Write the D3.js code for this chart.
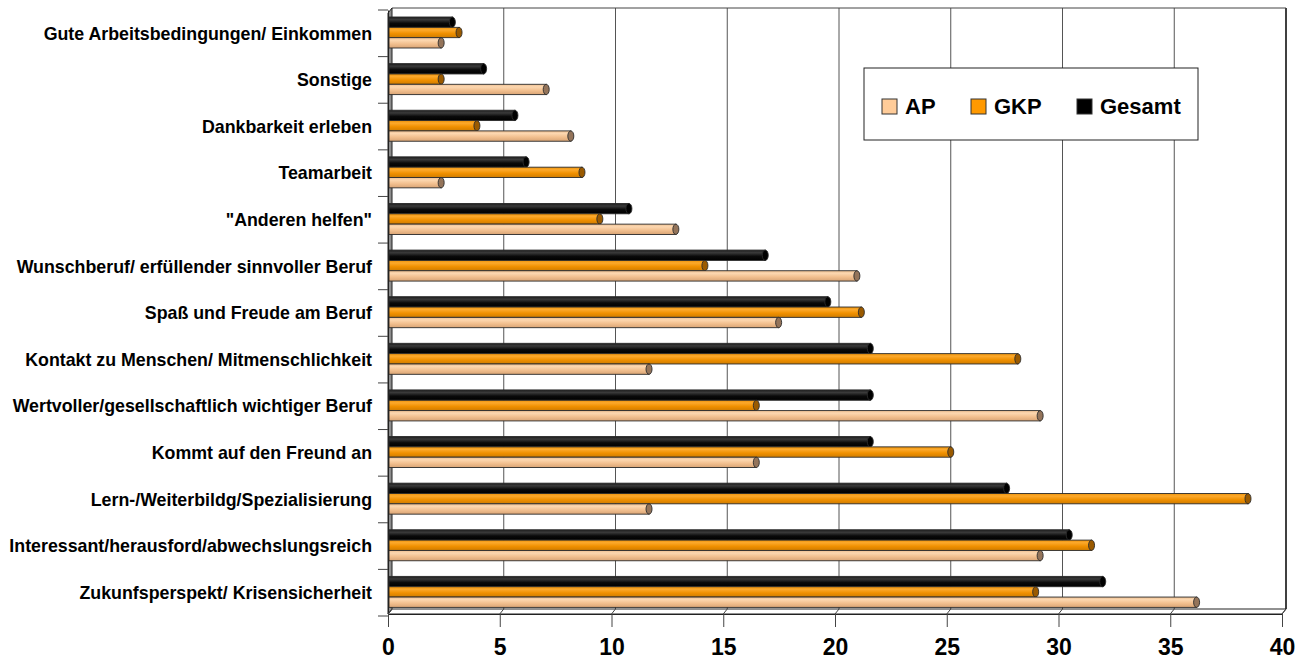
<!DOCTYPE html>
<html lang="de">
<head>
    <meta charset="UTF-8">
    <title>Gründe</title>
    <script src="https://cdn.jsdelivr.net/npm/d3@7/dist/d3.min.js"></script>
    <style>
        html, body {
            margin: 0;
            padding: 0;
            background-color: white;
        }
        svg {
            display: block;
            font-family: "Liberation Sans", Arial, sans-serif;
        }
        text.cat {
            font-size: 17.8px;
            font-weight: bold;
            fill: black;
        }
        text.tick {
            font-size: 23px;
            font-weight: bold;
            fill: black;
        }
        text.legend {
            font-size: 22px;
            font-weight: bold;
            fill: black;
        }
    </style>
</head>
<body>

<svg id="chart" width="1306" height="659"></svg>

<script>
    // categories from top to bottom
    var categories = [
        "Gute Arbeitsbedingungen/ Einkommen",
        "Sonstige",
        "Dankbarkeit erleben",
        "Teamarbeit",
        "\"Anderen helfen\"",
        "Wunschberuf/ erfüllender sinnvoller Beruf",
        "Spaß und Freude am Beruf",
        "Kontakt zu Menschen/ Mitmenschlichkeit",
        "Wertvoller/gesellschaftlich wichtiger Beruf",
        "Kommt auf den Freund an",
        "Lern-/Weiterbildg/Spezialisierung",
        "Interessant/herausford/abwechslungsreich",
        "Zukunfsperspekt/ Krisensicherheit"
    ];

    var apValues     = [2.2, 6.9, 8.0, 2.2, 12.7, 20.8, 17.3, 11.5, 29.0, 16.3, 11.5, 29.0, 36.0];
    var gkpValues    = [3.0, 2.2, 3.8, 8.5, 9.3, 14.0, 21.0, 28.0, 16.3, 25.0, 38.3, 31.3, 28.8];
    var gesamtValues = [2.7, 4.1, 5.5, 6.0, 10.6, 16.7, 19.5, 21.4, 21.4, 21.4, 27.5, 30.3, 31.8];

    var seriesNames = ["Gesamt", "GKP", "AP"];      // order inside a group, top to bottom
    var legendNames = ["AP", "GKP", "Gesamt"];
    var xTicks = [0, 5, 10, 15, 20, 25, 30, 35, 40];

    var seriesValues = {AP: apValues, GKP: gkpValues, Gesamt: gesamtValues};

    var colors = {
        AP:     {stops: ["#eebf91", "#fcd7b0", "#f2c08f", "#d9a475"], cap: "#94745a", swatch: "#ffcc99"},
        GKP:    {stops: ["#ee9208", "#fca92c", "#f09000", "#cf7c00"], cap: "#9a5a00", swatch: "#ff9900"},
        Gesamt: {stops: ["#1c1c1c", "#3a3a3a", "#0a0a0a", "#000000"], cap: "#000000", swatch: "#000000"}
    };

    var svg = d3.select("#chart");

    // 3d offsets
    var depthX = 4, depthY = 5;
    var plotTop = 8, floorY = 609;

    // back plane scale (gridlines, bars) and front scale (axis ticks)
    var x = d3.scaleLinear().domain([0, 40]).range([392, 1286]);
    var xFront = d3.scaleLinear().domain([0, 40]).range([392 - depthX, 1286 - depthX]);

    var y = d3.scaleBand().domain(categories).range([10, 616]);
    var ySub = d3.scaleBand().domain(seriesNames).range([7, 38]);

    // gradients
    var defs = svg.append("defs");
    seriesNames.forEach(function(s) {
        var g = defs.append("linearGradient")
            .attr("id", "grad-" + s)
            .attr("x1", 0).attr("y1", 0).attr("x2", 0).attr("y2", 1);
        var offs = [0, 0.25, 0.6, 1];
        colors[s].stops.forEach(function(c, i) {
            g.append("stop").attr("offset", offs[i]).attr("stop-color", c);
        });
    });

    // gridlines incl. top/right border
    var grid = svg.append("g").attr("class", "grid");
    grid.selectAll("line.grid")
        .data(xTicks.slice(1))
        .enter()
        .append("line")
        .attr("x1", function(d) { return x(d); })
        .attr("x2", function(d) { return x(d); })
        .attr("y1", plotTop)
        .attr("y2", floorY)
        .attr("stroke", function(d) { return d === 40 ? "#000" : "#555"; })
        .attr("stroke-width", function(d) { return d === 40 ? 1.5 : 1; });

    grid.append("line")
        .attr("x1", x(0)).attr("x2", x(40))
        .attr("y1", plotTop).attr("y2", plotTop)
        .attr("stroke", "#444");

    // floor
    svg.append("path")
        .attr("d", "M" + x(0) + "," + floorY + " L" + x(40) + "," + floorY +
            " L" + xFront(40) + "," + (floorY + depthY) + " L" + xFront(0) + "," + (floorY + depthY) + " Z")
        .attr("fill", "white")
        .attr("stroke", "#222")
        .attr("stroke-width", 1);

    // left wall
    svg.append("path")
        .attr("d", "M" + x(0) + "," + plotTop + " L" + x(0) + "," + floorY +
            " L" + xFront(0) + "," + (floorY + depthY) + " L" + xFront(0) + "," + (plotTop + depthY) + " Z")
        .attr("fill", "#8c8c8c")
        .attr("stroke", "#222")
        .attr("stroke-width", 1);

    // bars
    var barData = [];
    categories.forEach(function(c, i) {
        seriesNames.forEach(function(s) {
            barData.push({cat: c, series: s, value: seriesValues[s][i]});
        });
    });

    var bars = svg.append("g").attr("class", "bars")
        .selectAll("g.bar")
        .data(barData)
        .enter()
        .append("g")
        .attr("class", "bar");

    var barStart = x(0) - 3;

    bars.append("rect")
        .attr("x", barStart)
        .attr("y", function(d) { return y(d.cat) + ySub(d.series); })
        .attr("width", function(d) { return x(d.value) - barStart; })
        .attr("height", ySub.bandwidth())
        .attr("fill", function(d) { return "url(#grad-" + d.series + ")"; })
        .attr("stroke", "#2b2b2b")
        .attr("stroke-width", 0.9);

    bars.append("ellipse")
        .attr("cx", function(d) { return x(d.value); })
        .attr("cy", function(d) { return y(d.cat) + ySub(d.series) + ySub.bandwidth() / 2; })
        .attr("rx", 3)
        .attr("ry", ySub.bandwidth() / 2)
        .attr("fill", function(d) { return colors[d.series].cap; })
        .attr("stroke", "#2b2b2b")
        .attr("stroke-width", 0.9);

    // category axis (front plane)
    var yAxis = d3.axisLeft(y).tickSize(0).tickFormat("");
    var yAxisG = svg.append("g")
        .attr("transform", "translate(" + xFront(0) + ",0)")
        .call(yAxis);
    yAxisG.select(".domain").attr("stroke", "#222");

    var boundaries = categories.map(function(c) { return y(c); }).concat([y.range()[1]]);
    svg.append("g").selectAll("line")
        .data(boundaries)
        .enter()
        .append("line")
        .attr("x1", xFront(0) - 10)
        .attr("x2", xFront(0))
        .attr("y1", function(d) { return d; })
        .attr("y2", function(d) { return d; })
        .attr("stroke", "#444");

    svg.append("g").selectAll("text.cat")
        .data(categories)
        .enter()
        .append("text")
        .attr("class", "cat")
        .attr("x", 372)
        .attr("y", function(d) { return y(d) + y.bandwidth() / 2; })
        .attr("dy", "0.35em")
        .attr("text-anchor", "end")
        .text(function(d) { return d; });

    // value axis (front plane)
    var xAxisG = svg.append("g")
        .attr("transform", "translate(0," + (floorY + depthY) + ")")
        .call(d3.axisBottom(xFront).tickValues(xTicks).tickSize(13).tickFormat(d3.format("d")));
    xAxisG.select(".domain").attr("stroke", "#222");
    xAxisG.selectAll(".tick line").attr("stroke", "#444");
    xAxisG.selectAll(".tick text")
        .attr("class", "tick")
        .attr("font-family", null)
        .attr("font-size", null)
        .attr("y", 25)
        .attr("dy", "0.71em");

    // diagonal connectors of gridlines across the floor
    svg.append("g").selectAll("line")
        .data(xTicks)
        .enter()
        .append("line")
        .attr("x1", function(d) { return x(d); })
        .attr("y1", floorY)
        .attr("x2", function(d) { return xFront(d); })
        .attr("y2", floorY + depthY)
        .attr("stroke", "#444");

    // legend
    var legend = svg.append("g").attr("transform", "translate(864,68)");
    legend.append("rect")
        .attr("width", 334)
        .attr("height", 72)
        .attr("fill", "white")
        .attr("stroke", "#222")
        .attr("stroke-width", 1);

    var legendX = d3.scaleOrdinal().domain(legendNames).range([18, 107, 213]);
    var items = legend.selectAll("g.item")
        .data(legendNames)
        .enter()
        .append("g")
        .attr("class", "item")
        .attr("transform", function(d) { return "translate(" + legendX(d) + ",31)"; });

    items.append("rect")
        .attr("width", 15)
        .attr("height", 15)
        .attr("fill", function(d) { return colors[d].swatch; })
        .attr("stroke", "#333");

    items.append("text")
        .attr("class", "legend")
        .attr("x", 23)
        .attr("y", 15)
        .text(function(d) { return d; });
</script>
</body>
</html>
